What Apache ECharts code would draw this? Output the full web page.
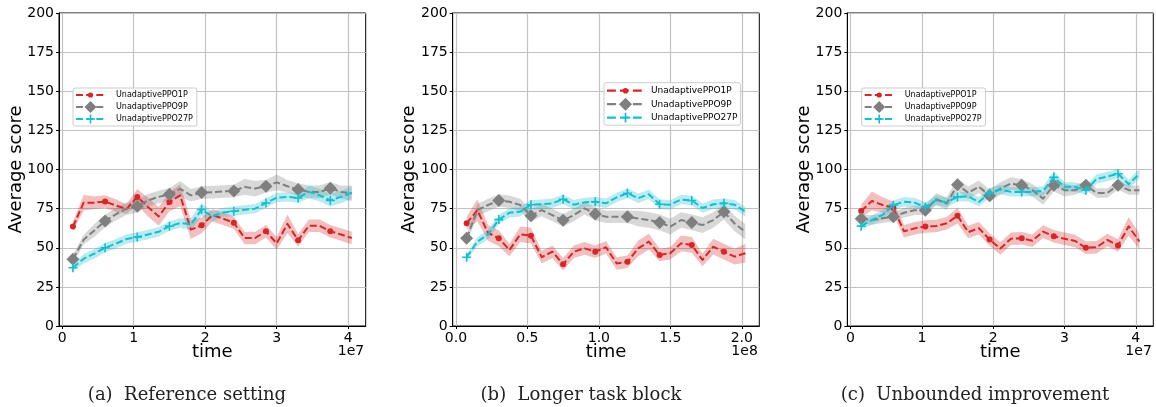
<!DOCTYPE html>
<html>
<head>
<meta charset="utf-8">
<script src="https://cdn.jsdelivr.net/npm/echarts@6/dist/echarts.min.js"></script>
<style>
	html, body { margin: 0; padding: 0; background: #fff; }
	#main { width: 1156px; height: 407px; }
</style>
</head>
<body>
<div id="main"></div>
<script>
// x positions (panel a and c in 1e7, panel b in 1e8)
var timeA = [0.15, 0.3, 0.45, 0.6, 0.75, 0.9, 1.05, 1.2, 1.35, 1.5, 1.65, 1.8, 1.95, 2.1, 2.25, 2.4, 2.55, 2.7, 2.85, 3.0, 3.15, 3.3, 3.45, 3.6, 3.75, 3.9, 4.05];
var timeB = [0.075, 0.15, 0.225, 0.3, 0.375, 0.45, 0.525, 0.6, 0.675, 0.75, 0.825, 0.9, 0.975, 1.05, 1.125, 1.2, 1.275, 1.35, 1.425, 1.5, 1.575, 1.65, 1.725, 1.8, 1.875, 1.95, 2.025];

var names = ['UnadaptivePPO1P', 'UnadaptivePPO9P', 'UnadaptivePPO27P'];
var xTicksA = [0, 1, 2, 3, 4];
var xTicksB = [0, 0.5, 1, 1.5, 2];
var captions = ['(a)  Reference setting', '(b)  Longer task block', '(c)  Unbounded improvement'];
var offsetTexts = ['1e7', '1e8', '1e7'];

// (a) Reference setting
var ppo1A = [63.5, 78.8, 78.8, 79.5, 77, 74.8, 82.5, 76, 70, 79.3, 83.5, 61.6, 64.3, 70.8, 68.6, 66, 56.3, 56.3, 60.5, 52.8, 65.3, 54.8, 64, 64, 60.5, 58.5, 56.2];
var ppo1AErr = [3, 5, 4, 4, 4, 3, 5, 6, 6, 6, 7, 6, 5, 4, 4, 4, 4, 4, 4, 4, 6, 4, 4, 4, 4, 4, 4];
var ppo9A = [42.7, 55.1, 61.1, 67.1, 71.4, 75, 76.5, 80.3, 82.5, 84.2, 87.6, 83.5, 85.3, 85.5, 86, 86.3, 88.9, 87.8, 89.3, 91.8, 89.3, 87.2, 85.7, 85.7, 88, 85.7, 84.7];
var ppo9AErr = [3, 3, 4, 4, 4, 4, 4, 4, 4, 4, 5, 4, 4, 4, 4, 4, 5, 5, 4, 5, 4, 4, 4, 4, 4, 4, 5];
var ppo27A = [37.2, 43, 46.2, 50, 52.6, 55.6, 56.8, 58.5, 60.2, 63.8, 65.8, 65, 74.4, 70, 72.6, 73.3, 74.2, 75, 78.6, 82, 82.5, 81.8, 85.7, 83.5, 80.3, 82.5, 85.2];
var ppo27AErr = [2, 3, 3, 3, 3, 3, 3, 3, 3, 3, 3, 4, 4, 3, 3, 3, 3, 3, 3, 3, 3, 3, 4, 4, 4, 4, 4];

// (b) Longer task block
var ppo1B = [65.6, 74, 59.5, 56, 48.6, 58.6, 57.7, 44, 47.5, 39.4, 47.5, 49.6, 47.5, 50.3, 40, 41, 49.6, 53.9, 45.4, 46.5, 52.8, 51.8, 42.2, 50.7, 47.5, 44.3, 46.5];
var ppo1BErr = [4, 7, 5, 5, 4, 5, 5, 4, 4, 4, 4, 4, 4, 4, 4, 4, 5, 5, 4, 4, 5, 5, 4, 5, 5, 5, 6];
var ppo9B = [56, 74, 77.3, 80.2, 79.4, 77.3, 70.5, 74.1, 70.9, 67.5, 70.9, 75.2, 71.6, 69.8, 69.8, 69.8, 68.7, 67.7, 66.2, 63.5, 67.7, 66.2, 64.5, 67.7, 73, 65.5, 60.2];
var ppo9BErr = [3, 4, 4, 4, 4, 4, 4, 4, 4, 4, 4, 4, 4, 4, 4, 4, 5, 5, 5, 5, 5, 5, 5, 5, 5, 5, 5];
var ppo27B = [43.9, 53.9, 58.5, 68, 72.4, 73, 77.5, 77.8, 78.4, 81, 77.5, 79, 79.4, 78.4, 82.2, 84.8, 81.6, 84.2, 77.8, 77.5, 80.8, 80.2, 75.4, 77.8, 78.4, 77.5, 73];
var ppo27BErr = [2, 3, 3, 3, 3, 3, 3, 3, 3, 3, 3, 3, 3, 3, 3, 3, 3, 3, 3, 3, 3, 3, 3, 3, 3, 3, 3];

// (c) Unbounded improvement
var ppo1C = [73.5, 79.9, 77.3, 75.6, 60.5, 62.4, 63.6, 63.9, 65.6, 70.5, 60, 62.5, 55.2, 49.5, 55.8, 56, 54.5, 60.3, 57.3, 55.8, 54.3, 50, 50.3, 55, 51.5, 63.7, 54];
var ppo1CErr = [4, 6, 5, 4, 4, 4, 4, 4, 4, 5, 4, 4, 4, 4, 4, 4, 4, 4, 4, 4, 4, 4, 4, 4, 4, 6, 5];
var ppo9C = [68.5, 67.7, 68.8, 69.8, 72.4, 74, 74, 81, 78.3, 90.2, 85.2, 89, 83.3, 87.8, 91, 90, 86.8, 81.4, 90, 86.8, 86.8, 90, 85, 85, 90, 86.8, 86.8];
var ppo9CErr = [3, 3, 3, 3, 3, 3, 3, 4, 4, 4, 4, 4, 4, 4, 4, 4, 4, 4, 4, 4, 3, 3, 3, 3, 3, 3, 3];
var ppo27C = [63.8, 67.7, 71, 77.2, 79.4, 78.8, 76, 80.4, 79, 82.5, 82.7, 79.3, 85, 87.2, 85.7, 85.7, 85.7, 86.3, 95, 88.9, 88.9, 86.8, 94, 95.5, 97.3, 90.6, 97.3];
var ppo27CErr = [2, 3, 3, 3, 3, 3, 3, 3, 3, 3, 3, 3, 3, 3, 3, 3, 3, 3, 4, 3, 3, 3, 3, 3, 3, 3, 3];

var panels = [
	{ time: timeA, mean: [ppo1A, ppo9A, ppo27A], err: [ppo1AErr, ppo9AErr, ppo27AErr], ticks: xTicksA },
	{ time: timeB, mean: [ppo1B, ppo9B, ppo27B], err: [ppo1BErr, ppo9BErr, ppo27BErr], ticks: xTicksB },
	{ time: timeA, mean: [ppo1C, ppo9C, ppo27C], err: [ppo1CErr, ppo9CErr, ppo27CErr], ticks: xTicksA }
];

// layout / style
var gridLeft = [59, 452.7, 847.3];
var gridWidth = [306.7, 306.6, 306];
var gridTop = 13, gridHeight = 313;
var xMin = [-0.045, -0.0225, -0.045];
var xMax = [4.245, 2.1225, 4.245];
var captionX = [187, 581, 975];
var colors = ['#d62728', '#7f7f7f', '#17becf'];
var bandColors = ['rgba(214,39,40,0.3)', 'rgba(127,127,127,0.3)', 'rgba(23,190,207,0.3)'];
var plusPath = 'path://M4.1,0H5.9V4.1H10V5.9H5.9V10H4.1V5.9H0V4.1H4.1Z';
var symbols = ['circle', 'diamond', plusPath];
var symbolSizes = [6, 13, 9];
var markEvery = 3;
var sans = 'DejaVu Sans';

function markerSize(size) {
	return function(val, params) {
		return params.dataIndex % markEvery === 0 ? size : 0;
	};
}

// one polygon for the whole shaded band, placed through the axes
function bandRenderer(color) {
	return function(params, api) {
		if (params.dataIndex !== 0) return;
		var n = params.dataInsideLength;
		var top = [], bottom = [];
		for (var i = 0; i < n; i++) {
			top.push(api.coord([api.value(0, i), api.value(2, i)]));
			bottom.unshift(api.coord([api.value(0, i), api.value(1, i)]));
		}
		return {
			type: 'polygon',
			shape: { points: top.concat(bottom) },
			style: { fill: color },
			silent: true
		};
	};
}

// legend handle: dashed line + marker, drawn into a w x h box
function legendIcon(kind, w, h, len) {
	var k = h / 12;
	var cy = h / 2, cx = len / 2;
	var s = 'M0,0L0,0Z M' + w + ',' + h + 'L' + w + ',' + h + 'Z ';
	var on = len * 0.24, off = len * 0.11, x = 0;
	while (x < len) {
		var xe = Math.min(x + on, len);
		s += 'M' + x + ',' + (cy - k) + 'H' + xe + 'V' + (cy + k) + 'H' + x + 'Z ';
		x = xe + off;
	}
	if (kind == 0) {
		var r = 2.6 * k;
		s += 'M' + (cx - r) + ',' + cy + 'A' + r + ',' + r + ',0,1,1,' + (cx + r) + ',' + cy + 'A' + r + ',' + r + ',0,1,1,' + (cx - r) + ',' + cy + 'Z';
	} else if (kind == 1) {
		var d = h / 2;
		s += 'M' + cx + ',' + (cy - d) + 'L' + (cx + d) + ',' + cy + 'L' + cx + ',' + (cy + d) + 'L' + (cx - d) + ',' + cy + 'Z';
	} else {
		var a = 4.5 * k, t = 0.8 * k;
		s += 'M' + (cx - t) + ',' + (cy - a) + 'H' + (cx + t) + 'V' + (cy - t) + 'H' + (cx + a) + 'V' + (cy + t) + 'H' + (cx + t) + 'V' + (cy + a) + 'H' + (cx - t) + 'V' + (cy + t) + 'H' + (cx - a) + 'V' + (cy - t) + 'H' + (cx - t) + 'Z';
	}
	return 'path://' + s;
}

var legendBox = [
	{ left: 73, top: 88, w: 35, h: 12, len: 29, gap: 0, font: 8, padding: [1, 4, 1, 3] },
	{ left: 604, top: 82.7, w: 39, h: 13, len: 37, gap: 0.5, font: 9, padding: [1.5, 3, 1, 3] },
	{ left: 861.7, top: 88, w: 35, h: 12, len: 29, gap: 0, font: 8, padding: [1, 4, 1, 3] }
];

var grids = [], xAxes = [], yAxes = [], series = [], legends = [], graphics = [];

for (var p = 0; p < 3; p++) {
	var panel = panels[p];
	grids.push({
		left: gridLeft[p], top: gridTop, width: gridWidth[p], height: gridHeight,
		show: true, borderColor: '#000', borderWidth: 1, backgroundColor: 'transparent',
		containLabel: false, outerBoundsMode: 'none'
	});
	xAxes.push({
		gridIndex: p, type: 'value', min: xMin[p], max: xMax[p],
		axisLine: { show: true, onZero: false, lineStyle: { color: '#000', width: 1 } },
		axisTick: { show: true, length: 3, customValues: panel.ticks, lineStyle: { color: '#000', width: 1 } },
		axisLabel: {
			customValues: panel.ticks, fontSize: 14, fontFamily: sans, color: '#000', margin: 5,
			formatter: p == 1 ? function(v) { return v.toFixed(1); } : function(v) { return String(v); }
		},
		splitLine: { show: true, lineStyle: { color: '#c2c2c2', width: 1.2 } },
		name: 'time', nameLocation: 'middle', nameGap: 17, nameMoveOverlap: false,
		nameTextStyle: { fontSize: 18, fontFamily: sans, color: '#000' }
	});
	yAxes.push({
		gridIndex: p, type: 'value', min: 0, max: 200, interval: 25,
		axisLine: { show: true, onZero: false, lineStyle: { color: '#000', width: 1 } },
		axisTick: { show: true, length: 3, lineStyle: { color: '#000', width: 1 } },
		axisLabel: { fontSize: 14, fontFamily: sans, color: '#000', margin: 5 },
		splitLine: { show: true, lineStyle: { color: '#c2c2c2', width: 1.2 } },
		name: 'Average score', nameLocation: 'middle', nameGap: 34, nameRotate: 90, nameMoveOverlap: false,
		nameTextStyle: { fontSize: 18, fontFamily: sans, color: '#000' }
	});

	// shaded bands
	for (var s = 0; s < 3; s++) {
		var band = [];
		for (var i = 0; i < panel.time.length; i++) {
			band.push([panel.time[i], panel.mean[s][i] - panel.err[s][i], panel.mean[s][i] + panel.err[s][i]]);
		}
		series.push({
			type: 'custom', name: 'band', xAxisIndex: p, yAxisIndex: p,
			data: band, encode: { x: 0, y: [1, 2] },
			renderItem: bandRenderer(bandColors[s]),
			silent: true, z: 2
		});
	}
	// mean lines
	for (var s = 0; s < 3; s++) {
		var pts = [];
		for (var i = 0; i < panel.time.length; i++) {
			pts.push([panel.time[i], panel.mean[s][i]]);
		}
		series.push({
			type: 'line', name: names[s], xAxisIndex: p, yAxisIndex: p,
			data: pts, color: colors[s], z: 3 + s,
			symbol: symbols[s], symbolSize: markerSize(symbolSizes[s]),
			showSymbol: true, showAllSymbol: true, silent: true,
			lineStyle: { color: colors[s], width: 2, type: [7, 3], join: 'round' },
			itemStyle: { color: colors[s], borderWidth: 0 },
			emphasis: { disabled: true }
		});
	}

	var lb = legendBox[p];
	var items = [];
	for (var s = 0; s < 3; s++) {
		items.push({ name: names[s], icon: legendIcon(s, lb.w, lb.h, lb.len) });
	}
	legends.push({
		left: lb.left, top: lb.top, orient: 'vertical',
		itemWidth: lb.w, itemHeight: lb.h, itemGap: lb.gap, padding: lb.padding,
		backgroundColor: 'rgba(255,255,255,0.8)', borderColor: '#cccccc', borderWidth: 1, borderRadius: 2,
		selectedMode: false,
		itemStyle: { borderWidth: 0 },
		textStyle: { fontSize: lb.font, fontFamily: sans, color: '#000' },
		data: items
	});

	graphics.push({
		type: 'text', x: gridLeft[p] + gridWidth[p] - 1.5, y: 351,
		style: { text: offsetTexts[p], align: 'right', verticalAlign: 'middle', font: '14px "DejaVu Sans"', fill: '#000' }
	});
	graphics.push({
		type: 'text', x: captionX[p], y: 395,
		style: { text: captions[p], align: 'center', verticalAlign: 'middle', font: '18px "DejaVu Serif"', fill: '#222' }
	});
}

var chart = echarts.init(document.getElementById('main'), null, { renderer: 'canvas' });
var option = {
	animation: false,
	backgroundColor: '#fff',
	grid: grids,
	xAxis: xAxes,
	yAxis: yAxes,
	legend: legends,
	graphic: graphics,
	series: series
};
chart.setOption(option);
</script>
</body>
</html>
